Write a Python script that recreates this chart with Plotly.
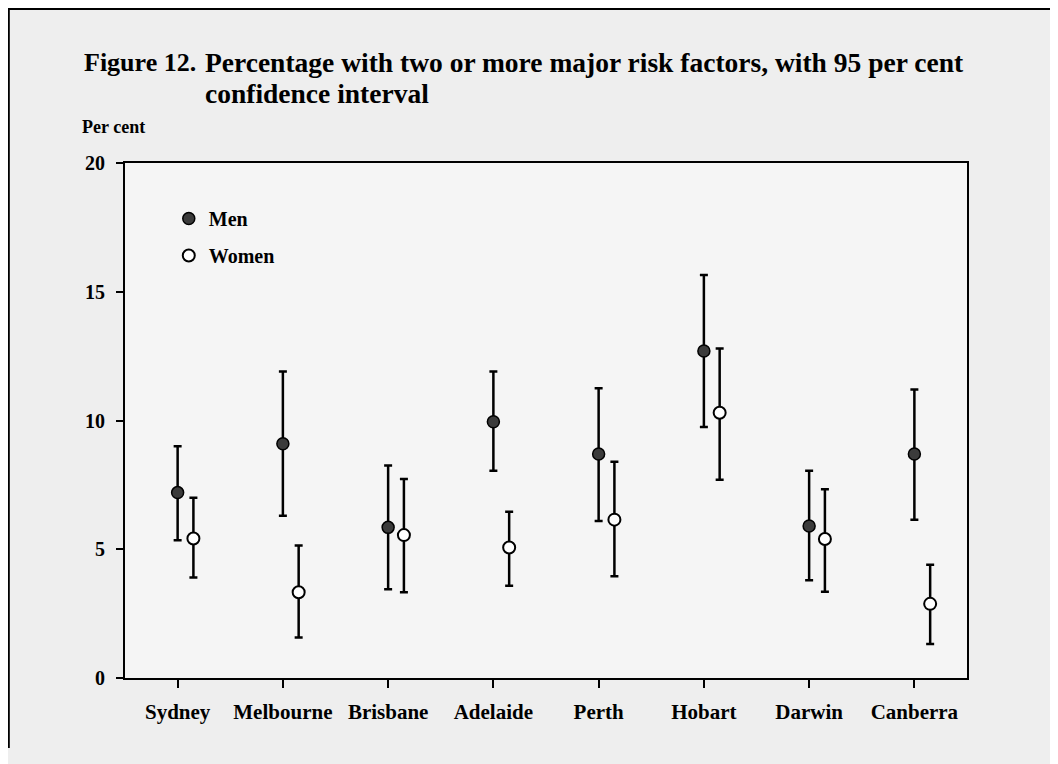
import plotly.graph_objects as go

cities = ["Sydney", "Melbourne", "Brisbane", "Adelaide", "Perth", "Hobart", "Darwin", "Canberra"]

men_val = [7.2, 9.1, 5.85, 9.95, 8.7, 12.7, 5.9, 8.7]
men_hi = [9.0, 11.9, 8.25, 11.9, 11.25, 15.65, 8.05, 11.2]
men_lo = [5.35, 6.3, 3.45, 8.05, 6.1, 9.75, 3.8, 6.15]

women_val = [5.42, 3.33, 5.55, 5.07, 6.15, 10.3, 5.4, 2.88]
women_hi = [7.0, 5.15, 7.73, 6.46, 8.4, 12.8, 7.33, 4.4]
women_lo = [3.9, 1.57, 3.33, 3.58, 3.95, 7.7, 3.35, 1.32]

y_ticks = [0, 5, 10, 15, 20]

offset = 0.15
x_men = list(range(len(cities)))
x_women = [i + offset for i in x_men]

FONT = "Liberation Serif"

fig = go.Figure()
fig.add_trace(go.Scatter(
    x=x_men, y=men_val, mode="markers", name="Men", legendgroup="m",
    marker=dict(size=12, color="#3b3b3b", line=dict(color="black", width=1.5)),
    error_y=dict(type="data", symmetric=False,
                 array=[h - v for h, v in zip(men_hi, men_val)],
                 arrayminus=[v - l for v, l in zip(men_val, men_lo)],
                 color="black", thickness=2.5, width=4),
))
fig.add_trace(go.Scatter(
    x=x_women, y=women_val, mode="markers", name="Women", legendgroup="w",
    marker=dict(size=12, color="white", line=dict(color="black", width=2)),
    error_y=dict(type="data", symmetric=False,
                 array=[h - v for h, v in zip(women_hi, women_val)],
                 arrayminus=[v - l for v, l in zip(women_val, women_lo)],
                 color="black", thickness=2.5, width=4),
))

# page body has an 8px margin, so the figure starts at (8, 8)
fig.update_layout(
    width=1050, height=756,
    margin=dict(l=117, r=91, t=155, b=86),
    paper_bgcolor="#eeeeee", plot_bgcolor="#f5f5f5",
    font=dict(family=FONT, color="black"),
    showlegend=True,
    legend=dict(x=0.052, y=0.93, xanchor="left", yanchor="top",
                bgcolor="rgba(0,0,0,0)", traceorder="grouped", tracegroupgap=8,
                font=dict(family=FONT, size=20, color="black", weight="bold")),
    xaxis=dict(range=[-0.5, 7.5], tickmode="array", tickvals=x_men, ticktext=cities,
               showgrid=False, zeroline=False, showline=True, linecolor="black", linewidth=2,
               mirror=True, ticks="outside", ticklen=8, tickwidth=2, tickcolor="black",
               ticklabelstandoff=6,
               tickfont=dict(family=FONT, size=21, color="black", weight="bold")),
    yaxis=dict(range=[0, 20], tickmode="array", tickvals=y_ticks,
               showgrid=False, zeroline=False, showline=True, linecolor="black", linewidth=2,
               mirror=True, ticks="outside", ticklen=7, tickwidth=2, tickcolor="black",
               ticklabelstandoff=7,
               tickfont=dict(family=FONT, size=20, color="black", weight="bold")),
)

fig.add_annotation(xref="paper", yref="paper", x=-0.051, y=1.1942, xanchor="left", yanchor="middle",
                   text="Figure 12.", showarrow=False,
                   font=dict(family=FONT, size=26, color="black", weight="bold"))
fig.add_annotation(xref="paper", yref="paper", x=0.0926, y=1.1942, xanchor="left", yanchor="middle",
                   text="Percentage with two or more major risk factors, with 95 per cent",
                   showarrow=False,
                   font=dict(family=FONT, size=27.5, color="black", weight="bold"))
fig.add_annotation(xref="paper", yref="paper", x=0.0926, y=1.134, xanchor="left", yanchor="middle",
                   text="confidence interval", showarrow=False,
                   font=dict(family=FONT, size=27.5, color="black", weight="bold"))
fig.add_annotation(xref="paper", yref="paper", x=-0.053, y=1.070, xanchor="left", yanchor="middle",
                   text="Per cent", showarrow=False,
                   font=dict(family=FONT, size=18, color="black", weight="bold"))

# scan border
fig.add_shape(type="line", xref="paper", yref="paper", x0=-0.139, x1=1.108, y0=1.299, y1=1.299,
              line=dict(color="black", width=2))
fig.add_shape(type="line", xref="paper", yref="paper", x0=-0.138, x1=-0.138, y0=1.301, y1=-0.136,
              line=dict(color="black", width=2))

fig.write_html("out.html")
